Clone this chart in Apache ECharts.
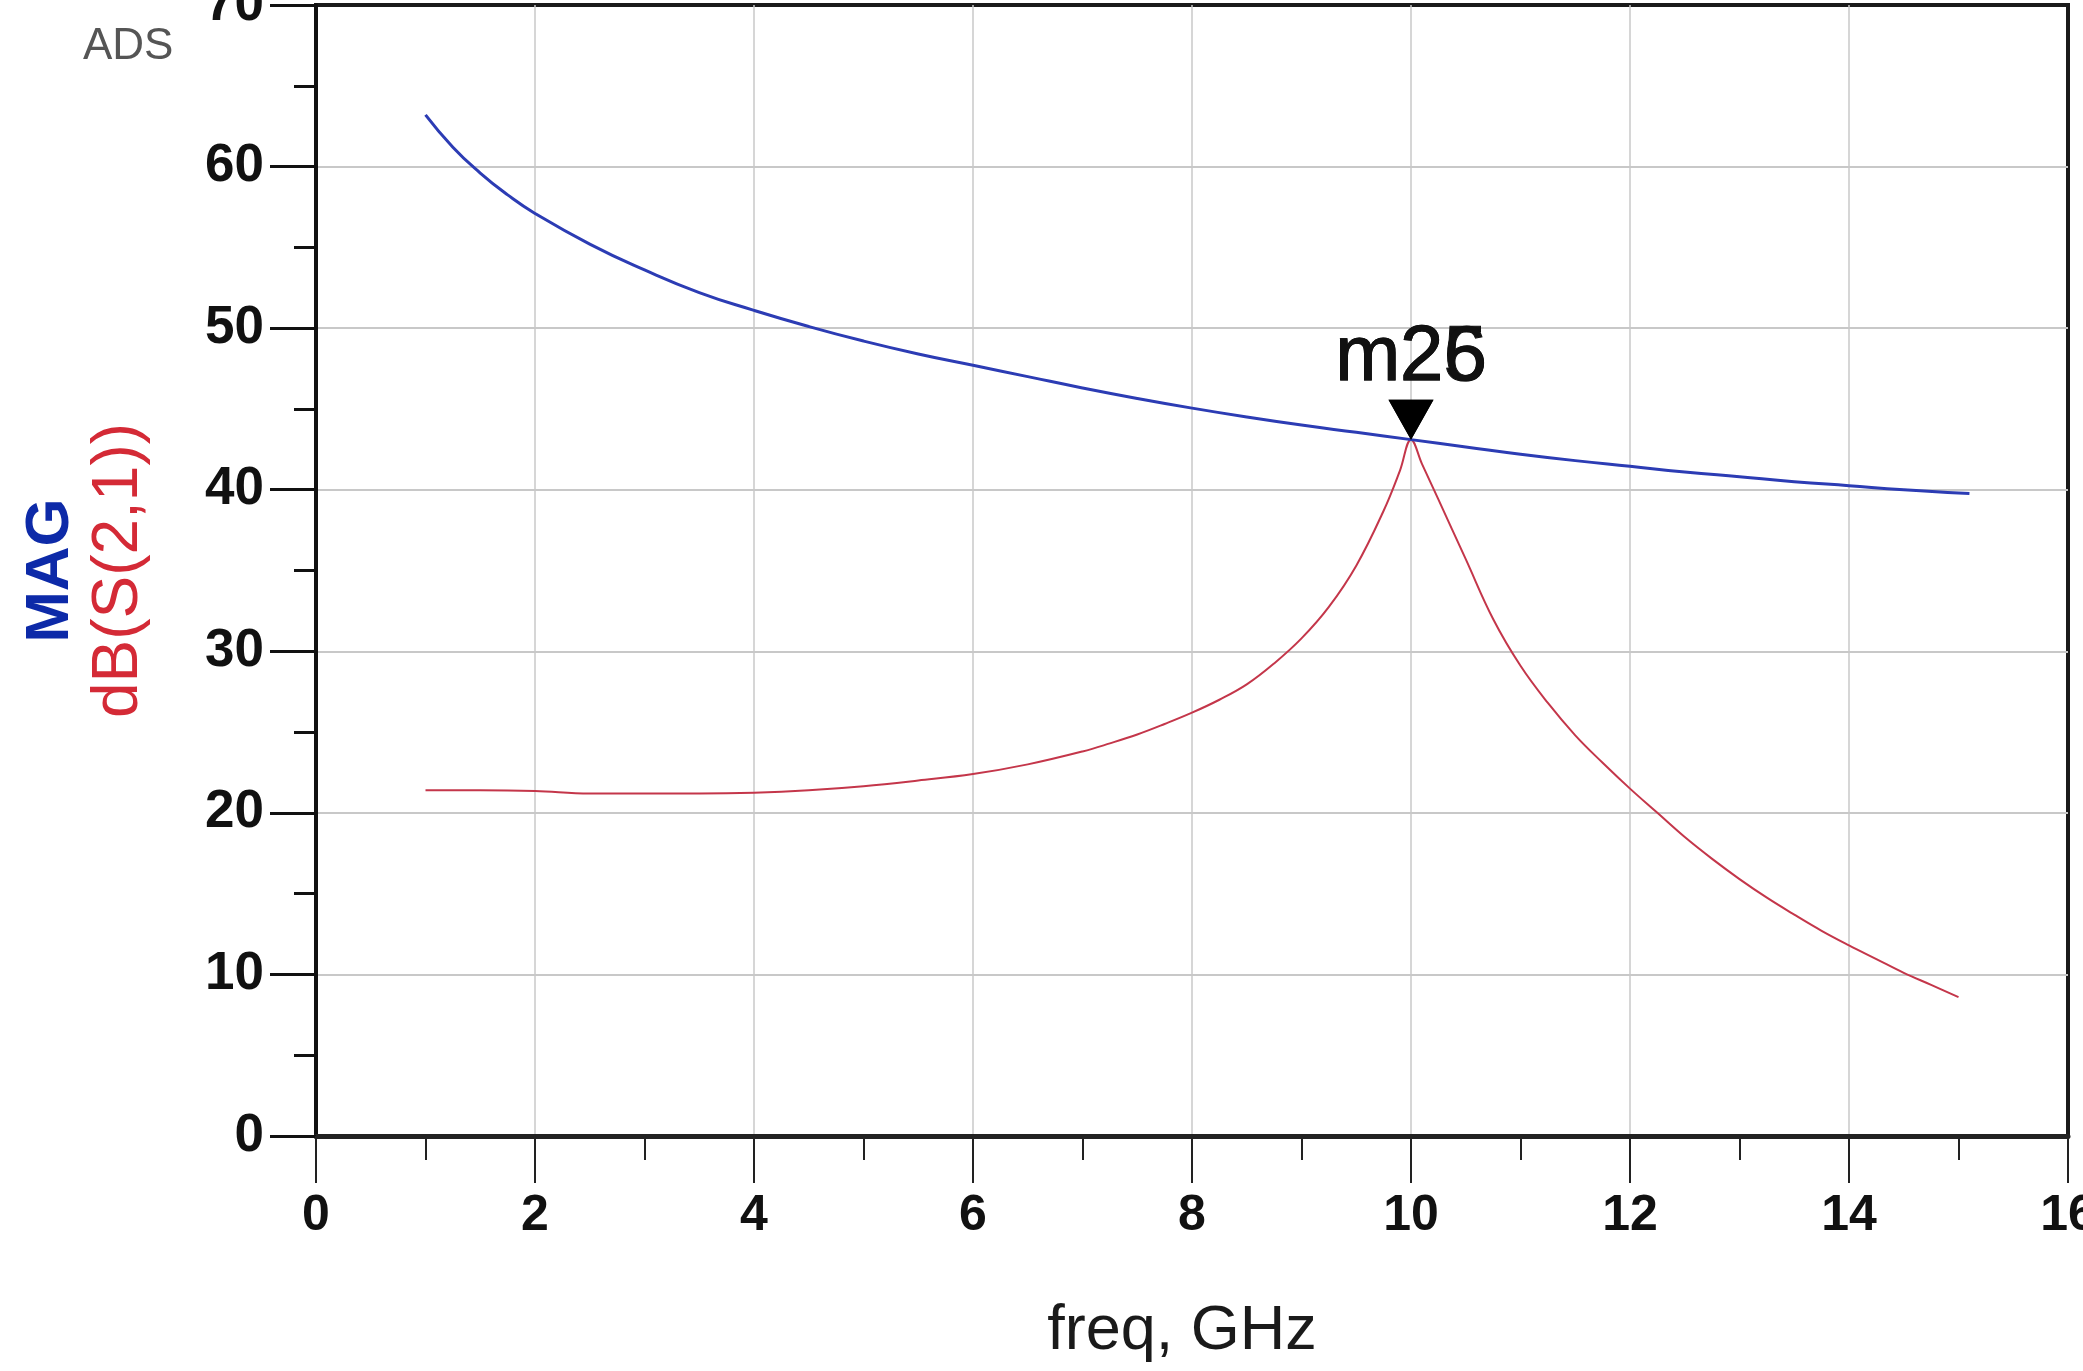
<!DOCTYPE html>
<html>
<head>
<meta charset="utf-8">
<title>MAG / dB(S(2,1))</title>
<script src="https://cdn.jsdelivr.net/npm/echarts@6/dist/echarts.min.js"></script>
<style>
  html, body { margin: 0; padding: 0; background: #fff; }
  #chart { width: 2083px; height: 1371px; }
</style>
</head>
<body>
<div id="chart"></div>
<script>
// MAG curve (blue)
const magFreq = [1, 1.25, 1.5, 1.75, 2, 2.5, 3, 3.5, 4, 4.5, 5, 5.5, 6, 6.5, 7, 7.5, 8, 8.5, 9, 9.5, 10, 10.5, 11, 11.5, 12, 12.5, 13, 13.5, 14, 14.5, 15, 15.1]
const magValues = [63.2, 61.2, 59.6, 58.25, 57.1, 55.2, 53.6, 52.2, 51.1, 50.1, 49.2, 48.4, 47.7, 47.0, 46.3, 45.65, 45.05, 44.5, 44.0, 43.55, 43.1, 42.65, 42.2, 41.8, 41.45, 41.1, 40.8, 40.5, 40.25, 40.0, 39.8, 39.76]

// dB(S(2,1)) curve (red)
const s21Freq = [1, 1.5, 2, 2.5, 3, 3.5, 4, 4.5, 5, 5.5, 6, 6.5, 7, 7.25, 7.5, 7.75, 8, 8.25, 8.5, 8.75, 9, 9.25, 9.5, 9.75, 9.9, 10, 10.1, 10.25, 10.5, 10.75, 11, 11.25, 11.5, 11.75, 12, 12.25, 12.5, 12.75, 13, 13.25, 13.5, 13.75, 14, 14.25, 14.5, 14.75, 15]
const s21Values = [21.4, 21.4, 21.35, 21.2, 21.2, 21.2, 21.25, 21.4, 21.65, 22.0, 22.4, 23.0, 23.8, 24.3, 24.85, 25.5, 26.2, 27.0, 27.95, 29.25, 30.8, 32.75, 35.3, 38.7, 41.2, 43.1, 41.6, 39.4, 35.7, 32.0, 29.1, 26.8, 24.8, 23.1, 21.5, 20.0, 18.5, 17.15, 15.9, 14.75, 13.7, 12.7, 11.8, 10.95, 10.1, 9.35, 8.6]

// markers m25 / m26 sit on top of each other
const markerNames = ['m25', 'm26']
const markerFreq = 10.0
const markerValue = 43.1

const font = "'Liberation Sans', Arial, sans-serif"

const chart = echarts.init(document.getElementById('chart'))

const toPairs = (xs, ys) => xs.map((x, i) => [x, ys[i]])

const option = {
  animation: false,
  backgroundColor: '#fff',
  title: {
    text: 'ADS',
    left: 78,
    top: 20,
    textStyle: { fontFamily: font, fontSize: 44, fontWeight: 'normal', color: '#555' }
  },
  grid: {
    left: 316,
    right: 15,
    top: 5,
    bottom: 235,
    outerBoundsMode: 'none',
    show: true,
    borderColor: '#1a1a1a',
    borderWidth: 4,
    backgroundColor: 'transparent'
  },
  xAxis: {
    type: 'value',
    min: 0,
    max: 16,
    interval: 2,
    name: 'freq, GHz',
    nameLocation: 'middle',
    nameGap: 164,
    nameTextStyle: { fontFamily: font, fontSize: 63, color: '#1a1a1a', padding: [0, 20, 0, 0] },
    axisLine: { show: true, onZero: false, lineStyle: { color: '#222', width: 5 } },
    axisTick: { show: true, inside: false, length: 47, lineStyle: { color: '#222', width: 2 } },
    minorTick: { show: true, splitNumber: 2, length: 24, lineStyle: { color: '#222', width: 2 } },
    axisLabel: {
      margin: 55,
      fontFamily: font,
      fontSize: 50,
      fontWeight: 'bold',
      color: '#111',
      showMaxLabel: true,
      showMinLabel: true
    },
    splitLine: { show: true, showMaxLine: false, lineStyle: { color: '#c8c8c8', width: 1.5 } }
  },
  yAxis: {
    type: 'value',
    min: 0,
    max: 70,
    interval: 10,
    name: '{m|MAG}\n{d|dB(S(2,1))}',
    nameLocation: 'middle',
    nameGap: 161,
    nameRotate: 90,
    nameTextStyle: {
      align: 'center',
      rich: {
        m: { fontFamily: font, fontSize: 62, fontWeight: 'bold', color: '#0d2aa8', lineHeight: 64 },
        d: { fontFamily: font, fontSize: 64, color: '#d42a36', lineHeight: 72 }
      }
    },
    axisLine: { show: true, onZero: false, lineStyle: { color: '#111', width: 4 } },
    axisTick: { show: true, inside: false, length: 46, lineStyle: { color: '#111', width: 3 } },
    minorTick: { show: true, splitNumber: 2, length: 22, lineStyle: { color: '#111', width: 3 } },
    axisLabel: {
      margin: 52,
      fontFamily: font,
      fontSize: 53,
      fontWeight: 'bold',
      color: '#111',
      showMaxLabel: true
    },
    splitLine: { show: true, showMaxLine: false, lineStyle: { color: '#c8c8c8', width: 2 } }
  },
  series: [
    {
      name: 'MAG',
      type: 'line',
      data: toPairs(magFreq, magValues),
      smooth: 0.5,
      showSymbol: false,
      lineStyle: { color: '#2c3cb4', width: 3 },
      z: 3
    },
    {
      name: 'dB(S(2,1))',
      type: 'line',
      data: toPairs(s21Freq, s21Values),
      smooth: 0.4,
      showSymbol: false,
      lineStyle: { color: '#c4364a', width: 2 },
      z: 2,
      markPoint: {
        symbol: 'triangle',
        symbolSize: [45, 40],
        symbolRotate: 180,
        symbolOffset: [0, -20],
        itemStyle: { color: '#000' },
        label: {
          show: true,
          position: 'top',
          distance: 2,
          fontFamily: font,
          fontSize: 78,
          color: '#111',
          textBorderColor: '#111',
          textBorderWidth: 1
        },
        data: markerNames.map(n => ({
          name: n,
          coord: [markerFreq, markerValue],
          label: { formatter: n }
        }))
      }
    }
  ]
}

chart.setOption(option)
</script>
</body>
</html>
